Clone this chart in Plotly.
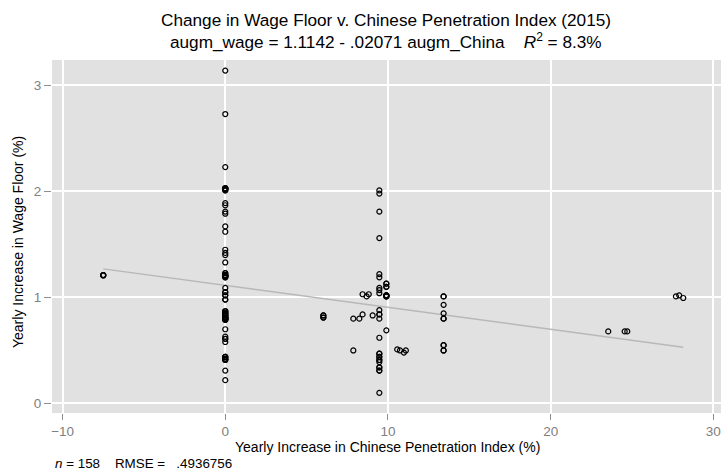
import numpy as np
import plotly.graph_objects as go

# ---- data ----
china_x = [-7.5,
           0, 0, 0, 0, 0, 0, 0, 0, 0, 0, 0, 0, 0, 0, 0, 0, 0, 0, 0, 0,
           0, 0, 0, 0, 0, 0, 0, 0, 0, 0, 0, 0, 0, 0, 0, 0, 0, 0, 0,
           6.03, 6.03, 7.87, 8.24, 8.44, 9.06, 8.44, 8.69, 8.82, 7.87,
           9.47, 9.47, 9.47, 9.47, 9.47, 9.47, 9.47, 9.47, 9.47, 9.47,
           9.47, 9.47, 9.47, 9.47, 9.47, 9.47, 9.47, 9.47, 9.47, 9.47,
           9.9, 9.9, 9.9, 9.9, 9.9,
           10.57, 10.74, 10.98, 11.1,
           13.42, 13.42, 13.42, 13.42, 13.42, 13.42,
           23.54, 24.55, 24.71, 27.70, 27.90, 28.15]
wage_y = [1.21,
          3.14, 2.73, 2.23, 2.03, 2.02, 2.01, 1.89, 1.87, 1.81, 1.79,
          1.67, 1.62, 1.45, 1.42, 1.40, 1.33, 1.23, 1.21, 1.20, 1.19,
          1.09, 1.05, 1.02, 0.98, 0.87, 0.85, 0.83, 0.81, 0.80, 0.79,
          0.70, 0.63, 0.61, 0.58, 0.44, 0.42, 0.41, 0.31, 0.22,
          0.83, 0.81, 0.80, 0.80, 0.84, 0.83, 1.03, 1.01, 1.03, 0.50,
          2.01, 1.98, 1.81, 1.56, 1.22, 1.19, 1.09, 1.07, 1.04, 0.88,
          0.84, 0.80, 0.62, 0.47, 0.44, 0.41, 0.39, 0.34, 0.31, 0.10,
          1.13, 1.10, 1.02, 1.01, 0.69,
          0.51, 0.50, 0.48, 0.50,
          1.01, 0.93, 0.85, 0.80, 0.55, 0.50,
          0.68, 0.68, 0.68, 1.01, 1.02, 0.995]
# number of coincident observations at each plotted position
n_obs = [4,
         1, 1, 1, 4, 2, 2, 1, 1, 1, 1,
         1, 1, 1, 1, 1, 1, 2, 4, 3, 2,
         1, 2, 2, 2, 3, 4, 4, 4, 4, 3,
         1, 1, 2, 1, 3, 3, 2, 1, 1,
         2, 2, 1, 1, 1, 1, 1, 1, 1, 1,
         1, 1, 1, 1, 1, 1, 1, 1, 1, 1,
         2, 1, 1, 2, 2, 2, 1, 2, 2, 1,
         2, 2, 4, 3, 1,
         1, 1, 1, 1,
         2, 1, 1, 2, 2, 2,
         1, 1, 1, 1, 1, 1]

intercept = 1.1142
slope = -0.02071
title_1 = "Change in Wage Floor v. Chinese Penetration Index (2015)"
title_2 = "augm_wage = 1.1142 - .02071 augm_China    <i>R</i><sup>2</sup> = 8.3%"
footnote = "<i>n</i> = 158    RMSE =   .4936756"
x_ticks = [-10, 0, 10, 20, 30]
y_ticks = [0, 1, 2, 3]

xs = np.repeat(np.array(china_x), n_obs)
ys = np.repeat(np.array(wage_y), n_obs)

fit_x = np.array([min(china_x), max(china_x)])
fit_y = intercept + slope * fit_x

FONT = "Liberation Sans, Arial, sans-serif"

fig = go.Figure()
fig.add_trace(go.Scatter(x=fit_x, y=fit_y, mode="lines",
                         line=dict(color="#b8b8b8", width=1.5),
                         hoverinfo="skip", showlegend=False))
fig.add_trace(go.Scatter(x=xs, y=ys, mode="markers",
                         marker=dict(symbol="circle-open", size=5,
                                     color="black", line=dict(width=1.2, color="black")),
                         showlegend=False))

L, R, T, B = 52, 0, 60, 57
W, H = 721, 470
ph = H - T - B
pw = W - L - R

def px_to_paper_y(py):
    return (H - B - py) / ph

def px_to_paper_x(px):
    return (px - L) / pw

fig.update_layout(
    width=W, height=H,
    margin=dict(l=L, r=R, t=T, b=B, pad=0),
    paper_bgcolor="white",
    plot_bgcolor="#e1e1e1",
    font=dict(family=FONT, size=14, color="black"),
    xaxis=dict(range=[-10.65, 30.47], tickvals=x_ticks, showgrid=True,
               gridcolor="white", gridwidth=1.5, zeroline=False,
               ticks="outside", ticklen=6, tickcolor="#909090", tickwidth=1,
               tickfont=dict(color="#808080", size=13.5, family=FONT),
               ticklabeloverflow="allow", showline=False),
    yaxis=dict(range=[-0.09, 3.24], tickvals=y_ticks, showgrid=True,
               gridcolor="white", gridwidth=1.5, zeroline=False,
               ticks="outside", ticklen=7, tickcolor="#909090", tickwidth=1,
               tickfont=dict(color="#808080", size=13.5, family=FONT),
               showline=False),
    annotations=[
        dict(text=title_1, xref="paper", yref="paper", x=px_to_paper_x(386),
             y=px_to_paper_y(20), xanchor="center", yanchor="middle",
             showarrow=False, font=dict(size=17.2, family=FONT, color="black")),
        dict(text=title_2, xref="paper", yref="paper", x=px_to_paper_x(386),
             y=px_to_paper_y(41), xanchor="center", yanchor="middle",
             showarrow=False, font=dict(size=17.2, family=FONT, color="black")),
        dict(text="Yearly Increase in Chinese Penetration Index (%)", xref="paper",
             yref="paper", x=px_to_paper_x(387), y=px_to_paper_y(447),
             xanchor="center", yanchor="middle", showarrow=False,
             font=dict(size=14, family=FONT, color="black")),
        dict(text="Yearly Increase in Wage Floor (%)", xref="paper", yref="paper",
             x=px_to_paper_x(18), y=px_to_paper_y(242), xanchor="center",
             yanchor="middle", textangle=-90, showarrow=False,
             font=dict(size=14, family=FONT, color="black")),
        dict(text=footnote, xref="paper", yref="paper", x=px_to_paper_x(53),
             y=px_to_paper_y(463), xanchor="left", yanchor="middle",
             showarrow=False, font=dict(size=13.4, family=FONT, color="black")),
    ],
)

fig.write_html("out.html", config={"displayModeBar": False},
               post_script="document.body.style.margin='0';document.body.style.overflow='hidden';")
